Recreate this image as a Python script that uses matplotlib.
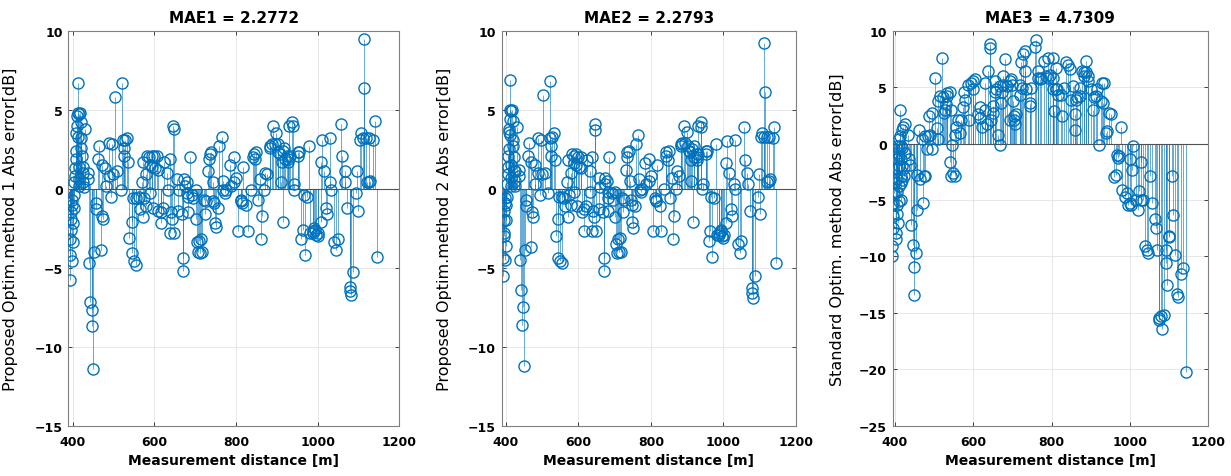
import numpy as np
import matplotlib.pyplot as plt

# distances [m] shared by the two proposed methods
dist_12 = [392, 393, 394, 395, 396, 396, 397, 398,
           399, 400, 401, 402, 403, 404, 405, 406, 407, 408, 409, 410, 411, 412, 413, 413,
           414, 414, 415, 416, 418, 419, 420, 421, 422, 424, 425, 426, 427, 430,
           437, 438, 440, 443, 446, 448, 450, 453, 456, 457, 461, 464, 469, 471, 472, 474,
           480, 482, 488, 489, 494, 497, 499, 503, 509, 517, 521, 522, 525, 526, 528,
           534, 535, 538, 544, 545, 548, 549, 554, 556, 562, 564, 570, 571, 573, 575,
           579, 580, 582, 587, 588, 589, 594, 595, 597, 600, 602, 607, 608, 610,
           616, 617, 620, 624, 631, 633, 637, 638, 641, 642, 645, 647, 649, 656, 657,
           661, 668, 670, 671,
           673, 674, 680, 681, 682, 683, 686, 693, 695, 701, 702, 704, 706, 709, 711,
           715, 717, 721, 723, 727, 731, 733, 735, 739, 743, 744, 747, 748, 751, 755,
           759, 765, 768, 769, 772, 776, 784, 788, 795, 796, 800, 805, 812, 813, 815,
           817, 825, 829, 837, 841, 843, 846, 850, 854, 858, 862, 863, 869, 871, 877,
           882, 884, 887, 891, 895, 899, 903, 904, 907, 911, 912,
           914, 915, 918, 919, 926, 927, 928, 930, 931, 938, 939, 942, 943, 951, 952,
           955, 959, 963, 967, 968, 974, 979, 982, 988, 989, 992, 993, 996, 1000, 1001,
           1007, 1008, 1010, 1015, 1020, 1024, 1029, 1031, 1033, 1041, 1045, 1049,
           1057, 1060, 1066, 1067, 1072, 1078, 1079, 1082, 1086, 1094, 1097, 1100,
           1103, 1107, 1111, 1113, 1114, 1119, 1120, 1125, 1126, 1129, 1136, 1140, 1146]

# proposed optim. method 1 error [dB]
err_1 = [-5.8, -4.2, -3.2, -2.6, -1.9, -1.5, -1.0, -0.7,
         -4.6, -3.4, -2.2, -1.2, -0.4, 0.4, 0.8, 1.3, 1.9, 2.4, 3.5, 4.0, 4.6, 6.7, 4.8, 3.3,
         1.4, 0.2, 0.6, 4.7, 4.8, 4.2, 3.2, 2.6, 2.1, 1.4, 1.0, 0.4, 0.1, 3.8,
         1.0, 0.6, -4.7, -7.2, -8.7, -7.7, -11.4, -4.0, -0.9, -1.3, 1.9, 2.7, -3.9, 1.5, -1.7, -1.9,
         1.3, 0.2, 2.9, 0.8, -0.5, 2.8, 0.9, 5.8, 1.1, -0.1, 6.7, 3.1, 2.6, 2.1, 3.1,
         3.2, 1.7, -3.1, -2.1, -4.1, -0.6, -4.6, -4.8, -0.6, -0.5, -1.3, 0.4, -1.8, 1.7, -0.6,
         0.9, -1.1, 2.1, 2.0, 1.5, -0.3, 2.1, 1.4, -1.2, 2.1, 1.3, 2.1, 1.2, -1.4,
         -1.5, -2.2, -1.2, 1.7, 1.0, -0.1, 1.9, -2.8, -1.5, -1.9, 4.0, 3.8, -2.8, 0.6, -1.4,
         -0.1, -1.6, -4.4, -5.2,
         0.6, 0.2, 0.4, -0.3, -0.5, -1.5, 2.0, -0.4, -0.6, -0.1, -1.9, -3.4, -4.0, -3.3, -4.1,
         -3.2, -4.0, -0.7, -1.6, -0.8, 1.1, 1.9, 2.2, 2.3, 0.4, -0.8, -0.9, -2.2, -2.4, -1.2,
         2.7, 3.3, 0.5, -0.1, -0.3, -0.1, 1.5, 0.2, 2.0, 0.4, 0.7, -2.7, -0.7, -0.8, -0.9,
         1.4, -1.0, -2.7, -0.1, 2.0, 2.2, 1.9, 2.3, -0.7, 0.6, -3.2, -1.7, -0.1, 1.0, 0.9,
         2.7, 2.6, 2.8, 4.0, 2.8, 3.5, 2.8, 2.3, 2.2, 0.4, 1.7,
         2.4, -2.1, 2.6, 1.9, 2.1, 1.7, 1.9, 4.0, 2.1, 4.2, 4.0, -0.1, 0.3, 2.3, 2.1,
         2.3, -3.2, -2.6, -0.4, -4.2, -0.5, 2.7, -2.8, -2.7, -2.8, -2.5, -2.6, -2.9, -3.0, -2.8,
         -2.1, 1.7, 3.1, 1.1, -1.2, -1.6, 0.4, 3.2, -0.1, -3.4, -3.9, -3.2,
         4.1, 2.1, 1.1, 0.4, -1.2, -6.2, -6.5, -6.7, -5.3, -0.3, 1.1, -1.4,
         3.1, 3.5, 3.2, 9.5, 6.4, 3.2, 0.4, 3.2, 0.4, 0.5, 3.1, 4.3, -4.3]

# proposed optim. method 2 error [dB]
err_2 = [-5.5, -4.4, -3.0, -2.8, -2.0, -1.4, -0.9, -0.6,
         -4.5, -3.6, -2.0, -1.0, -0.5, 0.3, 0.9, 1.4, 2.1, 2.5, 3.6, 3.8, 4.4, 6.9, 5.0, 3.4,
         1.5, 0.2, 0.7, 4.9, 5.0, 4.3, 3.1, 2.7, 2.0, 1.2, 1.1, 0.5, 0.2, 3.9,
         1.2, 0.8, -4.5, -6.4, -8.6, -7.5, -11.2, -3.9, -0.7, -1.1, 2.1, 2.9, -3.7, 1.7, -1.5, -1.8,
         1.5, 0.3, 3.2, 1.0, -0.4, 3.1, 0.9, 5.9, 1.0, -0.3, 6.8, 3.2, 2.7, 2.1, 3.3,
         3.5, 1.8, -3.0, -1.9, -4.4, -0.5, -4.6, -4.7, -0.5, -0.6, -1.1, 0.4, -1.8, 1.8, -0.4,
         1.0, -1.0, 2.2, 2.1, 1.6, -0.2, 2.2, 1.5, -1.1, 2.0, 1.4, 2.0, 1.3, -1.5,
         -1.3, -2.7, -1.1, 1.8, 1.1, -0.2, 2.0, -2.7, -1.4, -1.8, 4.1, 3.7, -2.7, 0.7, -1.3,
         0.1, -1.5, -4.4, -5.2,
         0.7, 0.3, 0.5, -0.2, -0.6, -1.4, 2.0, -0.3, -0.7, -0.2, -1.8, -3.5, -4.1, -3.2, -4.0,
         -3.1, -4.0, -0.6, -1.5, -0.7, 1.2, 2.0, 2.3, 2.4, 0.5, -0.7, -1.0, -2.1, -2.5, -1.1,
         2.8, 3.4, 0.6, -0.1, -0.2, 0.0, 1.6, 0.3, 1.9, 0.5, 0.8, -2.7, -0.6, -0.7, -0.8,
         1.5, -1.1, -2.7, 0.0, 2.1, 2.3, 1.8, 2.4, -0.6, 0.7, -3.2, -1.7, 0.0, 1.1, 0.8,
         2.8, 2.7, 2.9, 4.0, 2.9, 3.6, 2.7, 2.4, 2.3, 0.5, 1.8,
         2.5, -2.1, 2.7, 2.0, 2.2, 1.8, 2.0, 4.0, 2.2, 4.2, 3.9, 0.0, 0.3, 2.4, 2.2,
         2.4, -3.3, -2.7, -0.5, -4.3, -0.6, 2.8, -2.9, -2.8, -2.9, -2.6, -2.7, -3.0, -3.1, -2.9,
         -2.2, 1.6, 3.0, 1.0, -1.3, -1.7, 0.3, 3.1, 0.0, -3.5, -4.1, -3.3,
         3.9, 1.8, 1.0, 0.3, -1.4, -6.3, -6.6, -6.9, -5.5, -0.5, 0.9, -1.6,
         3.3, 3.5, 3.3, 9.2, 6.1, 3.3, 0.4, 3.3, 0.5, 0.6, 3.2, 3.9, -4.7]

# distances [m] for the standard method
dist_3 = [392, 393, 394, 395, 396, 397, 398,
          403, 403, 404, 404, 405, 405, 406, 406, 407, 407,
          408, 409, 409, 410, 410, 411,
          413, 413, 414, 414, 415, 415, 416,
          417, 418, 418, 419, 421, 422, 422, 425, 426,
          434, 435, 438, 442, 445, 448, 449, 454, 455, 457, 462, 463, 468, 472, 473,
          476, 477, 482, 483, 488, 489, 494, 495, 502, 506, 510, 511, 515, 519, 523,
          524, 527, 530, 533, 534, 540, 541, 543, 544, 546, 549, 553, 554, 557, 562,
          567, 568, 574, 575, 578, 587, 588, 593, 598, 599, 604, 612, 617, 618, 623,
          629, 630, 634, 638, 642, 643, 646, 650, 651, 655, 656, 659, 663, 668, 669,
          672, 673, 676, 677, 680, 685, 693, 694, 697, 698, 702, 703, 704, 706, 710,
          719, 720, 723, 724, 727, 731, 732, 736, 744, 745, 748, 757, 761, 765, 766,
          770, 774, 782, 787, 791, 792, 795,
          803, 804, 805, 806, 811, 812, 815, 816, 824, 828, 832, 837, 841, 848, 851,
          856, 860, 861, 862, 866, 873, 874, 879, 883, 884, 888, 889, 892, 893, 900,
          905, 909, 913, 917, 922, 926, 930, 931, 934, 939, 943, 947, 951,
          960, 964, 968, 969, 973, 977, 981, 987, 992, 996, 1000, 1001, 1004, 1005, 1008,
          1015, 1021, 1024, 1028, 1029, 1035, 1039, 1045, 1046, 1053, 1058, 1064, 1066, 1070,
          1075, 1076, 1079, 1083, 1087, 1092, 1093, 1096, 1100, 1101, 1109, 1111, 1115,
          1120, 1123, 1130, 1137, 1143]

# standard optim. method error [dB]
err_3 = [-9.1, -10.0, -7.5, -6.4, -5.3, -4.4, -3.5,
         -8.5, -7.9, -6.2, -5.4, -4.3, -3.1, -2.2, -1.4, -0.8, -0.2,
         -7.0, -5.1, -3.8, -2.0, -1.1, 0.4,
         3.0, 0.7, -0.2, -1.4, -2.9, -3.5, -5.0,
         1.2, -0.4, -2.0, -3.2, 1.5, -2.2, -2.9, 1.7, -0.8,
         0.8, -1.4, -1.9, -7.2, -9.0, -10.9, -13.4, -9.7, -5.9, -2.8, 1.2, -3.1, 0.4, -5.3, -2.9,
         -2.9, 0.7, -0.5, 0.7, 2.4, 0.8, 2.7, -0.5, 5.8, 1.4, 3.8, 0.4, 4.2, 7.6, 4.1,
         2.7, 3.0, 3.5, 4.2, 4.5, -1.6, 4.6, 3.0, -2.9, -0.1, -2.6, 0.8, -2.9, 1.5, 2.1,
         0.9, 2.1, 3.2, 4.6, 3.9, 5.2, 2.1, 5.4, 5.5, 4.8, 5.7, 2.6, 3.2, 2.3, 1.5,
         5.4, 3.0, 1.7, 6.4, 8.8, 8.5, 2.1, 3.3, 2.7, 5.5, 4.6, 4.8, 0.8, -0.1, 5.1,
         3.6, 4.6, 6.0, 5.2, 7.5, 5.1, 5.5, 2.1, 5.7, 5.2, 3.8, 2.4, 2.1, 1.7, 2.6,
         5.2, 4.3, 7.2, 4.9, 7.9, 8.2, 6.4, 4.8, 3.6, 3.3, 4.9, 8.6, 9.2, 6.4, 5.8,
         5.7, 5.8, 7.3, 6.0, 7.6, 5.8, 6.1,
         7.6, 5.8, 4.8, 2.9, 6.7, 4.8, 4.8, 4.3, 4.3, 2.4, 4.9, 7.2, 7.0, 6.6, 3.9,
         5.1, 2.6, 1.2, 3.9, 4.1, 4.9, 4.2, 6.4, 6.3, 6.0, 7.3, 6.3, 6.0, 5.5, 4.8,
         3.0, 4.1, 4.2, 4.8, -0.1, 3.8, 5.4, 3.6, 5.4, 0.9, 1.1, 2.7, 2.6,
         -3.0, -2.8, -1.0, -1.3, -1.1, 1.5, -4.1, -4.7, -4.4, -5.4, -5.3, -1.4, -5.4, -2.3, -0.2,
         -5.0, -5.9, -4.2, -1.6, -5.0, -5.0, -9.1, -9.4, -9.7, -2.9, -5.3, -6.7, -7.5, -9.4,
         -15.5, -15.6, -15.3, -16.4, -15.2, -9.4, -10.6, -12.5, -8.2, -8.3, -2.9, -6.3, -9.9,
         -13.3, -13.6, -11.6, -11.0, -20.2]

assert len(dist_12) == len(err_1) == len(err_2)
assert len(dist_3) == len(err_3)

titles = ['MAE1 = 2.2772', 'MAE2 = 2.2793', 'MAE3 = 4.7309']
ylabels = ['Proposed Optim.method 1 Abs error[dB]',
           'Proposed Optim.method 2 Abs error[dB]',
           'Standard Optim. method Abs error[dB]']

plt.rcParams['font.family'] = ['DejaVu Sans']
blue = '#0072BD'
W, H = 1231, 477
fig = plt.figure(figsize=(W / 100, H / 100), dpi=100)

# axes boxes in pixels: left, right, top, bottom
boxes = [(68.3, 399.3, 31.7, 426.7), (501.7, 796.0, 31.7, 426.7), (892.7, 1208.0, 31.7, 426.7)]
xlims = [(389, 1200), (389, 1200), (394, 1200)]
ylims = [(-15, 10), (-15, 10), (-25, 10)]
ylab_x = [18, 452, 845]
data = [(dist_12, err_1), (dist_12, err_2), (dist_3, err_3)]

for k in range(3):
    l, r, t, b = boxes[k]
    ax = fig.add_axes([l / W, 1 - b / H, (r - l) / W, (b - t) / H])
    x, y = data[k]
    # stems, open circle heads and the zero baseline
    ax.vlines(x, 0, y, color=blue, lw=0.6, alpha=0.7, zorder=2)
    ax.plot(x, y, 'o', ms=8, mfc='none', mec=blue, mew=1.0, zorder=3)
    ax.axhline(0, color='#505050', lw=0.8, zorder=2.5)
    ax.set_xlim(*xlims[k])
    ax.set_ylim(*ylims[k])
    ax.set_xticks([400, 600, 800, 1000, 1200])
    ax.set_yticks(np.arange(ylims[k][0], ylims[k][1] + 1, 5))
    ax.grid(True, color='#e3e3e3', lw=0.6, zorder=0)
    ax.set_axisbelow(True)
    ax.tick_params(direction='in', top=True, right=True, length=3, width=0.6,
                   color='#262626', labelsize=9)
    ax.tick_params(axis='x', pad=7)
    ax.tick_params(axis='y', pad=4)
    for lab in ax.get_xticklabels() + ax.get_yticklabels():
        lab.set_fontweight('bold')
    for s in ax.spines.values():
        s.set_color('#808080')
        s.set_linewidth(0.8)
    ax.set_title(titles[k], fontsize=11, fontweight='bold', pad=6)
    ax.set_xlabel('Measurement distance [m]', fontsize=10, fontweight='bold', labelpad=3)
    ax.set_ylabel(ylabels[k], fontsize=11.5)
    ax.yaxis.set_label_coords((ylab_x[k] - l) / (r - l), 0.5)

fig.savefig('out.png', dpi=100)
